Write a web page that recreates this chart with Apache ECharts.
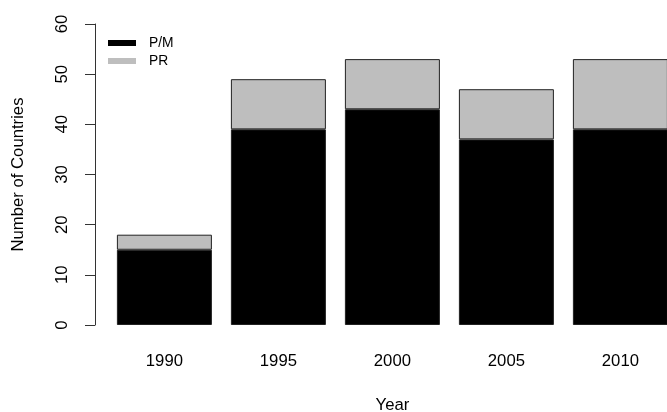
<!DOCTYPE html>
<html>
<head>
<meta charset="utf-8">
<script src="https://cdn.jsdelivr.net/npm/echarts@6/dist/echarts.min.js"></script>
<style>html,body{margin:0;padding:0;background:#fff}#c{width:667px;height:412px}</style>
</head>
<body>
<div id="c"></div>
<script>
var years = ['1990', '1995', '2000', '2005', '2010'];
var pmValues = [15, 39, 43, 37, 39];
var prValues = [3, 10, 10, 10, 14];
var yTicks = [0, 10, 20, 30, 40, 50, 60];

var FONT = 'Liberation Sans';
var chart = echarts.init(document.getElementById('c'), null, {renderer: 'canvas'});
chart.setOption({
  animation: false,
  backgroundColor: '#ffffff',
  textStyle: {fontFamily: FONT, color: '#000'},
  grid: {left: 107.4, width: 570, top: 24, height: 301, containLabel: false, outerBoundsMode: 'none'},
  legend: {
    orient: 'vertical',
    left: 108,
    top: 36,
    padding: 0,
    icon: 'rect',
    itemWidth: 28,
    itemHeight: 6,
    itemGap: 4,
    itemStyle: {borderWidth: 0},
    textStyle: {fontFamily: FONT, fontSize: 13.8, color: '#000', lineHeight: 14, padding: [0, 0, 0, 8]},
    data: ['P/M', 'PR']
  },
  xAxis: {
    type: 'category',
    data: years,
    axisLine: {show: false},
    axisTick: {show: false},
    axisLabel: {fontFamily: FONT, fontSize: 16.7, color: '#000', margin: 28},
    name: 'Year',
    nameLocation: 'middle',
    nameGap: 72,
    nameTextStyle: {fontFamily: FONT, fontSize: 16.7, color: '#000'}
  },
  yAxis: {
    type: 'value',
    min: yTicks[0],
    max: yTicks[yTicks.length - 1],
    interval: 10,
    offset: 12.4,
    splitLine: {show: false},
    axisLine: {show: true, lineStyle: {color: '#333', width: 1}},
    axisTick: {show: true, length: 10, lineStyle: {color: '#333', width: 1}},
    axisLabel: {fontFamily: FONT, fontSize: 16.7, color: '#000', rotate: 90, margin: 24},
    name: 'Number of Countries',
    nameLocation: 'middle',
    nameGap: 68,
    nameTextStyle: {fontFamily: FONT, fontSize: 16.7, color: '#000'}
  },
  series: [
    {
      name: 'P/M', type: 'bar', stack: 'total', data: pmValues,
      barWidth: '83.33%',
      itemStyle: {color: '#000000', borderColor: '#222', borderWidth: 1}
    },
    {
      name: 'PR', type: 'bar', stack: 'total', data: prValues,
      barWidth: '83.33%',
      itemStyle: {color: '#bebebe', borderColor: '#222', borderWidth: 1}
    }
  ]
});
</script>
</body>
</html>
